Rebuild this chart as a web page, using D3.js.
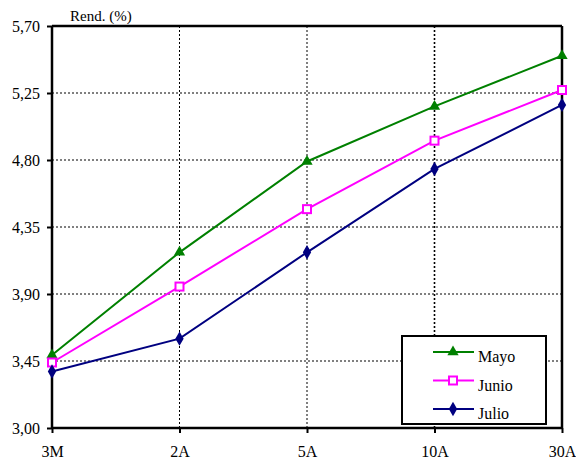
<!DOCTYPE html>
<html>
<head>
<meta charset="utf-8">
<script src="https://cdn.jsdelivr.net/npm/d3@7"></script>
<style>
  html, body { margin: 0; padding: 0; background: #fff; }
  svg { display: block; }
</style>
</head>
<body>
<svg id="chart" width="576" height="459" font-family="Liberation Serif"></svg>
<script>
// Plazos de la curva de rendimientos
const categories = ["3M", "2A", "5A", "10A", "30A"];
// Rendimiento (%) por mes
const mayo  = [3.49, 4.18, 4.79, 5.16, 5.50];
const junio = [3.44, 3.95, 4.47, 4.93, 5.27];
const julio = [3.38, 3.60, 4.18, 4.74, 5.17];
const yTicks = [3.00, 3.45, 3.90, 4.35, 4.80, 5.25, 5.70];

const series = [
  { name: "Mayo",  values: mayo,  color: "#008000", marker: "triangle" },
  { name: "Junio", values: junio, color: "#ff00ff", marker: "square" },
  { name: "Julio", values: julio, color: "#000080", marker: "diamond" }
];

const FONT = "Liberation Serif";
const svg = d3.select("#chart");
const plotLeft = 52, plotRight = 562, plotTop = 26, plotBottom = 428;

const x = d3.scalePoint().domain(categories).range([plotLeft, plotRight]);
const y = d3.scaleLinear().domain([3.00, 5.70]).range([plotBottom, plotTop]);
const fmt = v => d3.format(".2f")(v).replace(".", ",");

// Cuadrícula punteada
const grid = svg.append("g");
grid.selectAll("line.h").data(yTicks.slice(1, -1)).join("line")
  .attr("x1", plotLeft).attr("x2", plotRight)
  .attr("y1", d => y(d)).attr("y2", d => y(d))
  .attr("stroke", "#000").attr("stroke-width", 1).attr("stroke-dasharray", "2,2");
grid.selectAll("line.v").data(categories.slice(1, -1)).join("line")
  .attr("x1", d => x(d)).attr("x2", d => x(d))
  .attr("y1", plotTop).attr("y2", plotBottom)
  .attr("stroke", "#000").attr("stroke-width", d => d === "10A" ? 1.6 : 1)
  .attr("stroke-dasharray", "2,2");

// Marco superior y derecho
svg.append("line").attr("x1", plotLeft).attr("x2", plotRight).attr("y1", plotTop).attr("y2", plotTop)
  .attr("stroke", "#000").attr("stroke-width", 2.5);
svg.append("line").attr("x1", plotRight).attr("x2", plotRight).attr("y1", plotTop).attr("y2", plotBottom)
  .attr("stroke", "#000").attr("stroke-width", 2.5);

// Ejes
const yAxis = svg.append("g").attr("transform", `translate(${plotLeft},0)`)
  .call(d3.axisLeft(y).tickValues(yTicks).tickFormat(fmt).tickSize(5).tickPadding(7));
const xAxis = svg.append("g").attr("transform", `translate(0,${plotBottom})`)
  .call(d3.axisBottom(x).tickSize(5).tickPadding(13));
[yAxis, xAxis].forEach(a => {
  a.attr("font-family", FONT).attr("font-size", 16);
  a.select(".domain").attr("stroke", "#000").attr("stroke-width", 2.5);
  a.selectAll(".tick line").attr("stroke", "#000").attr("stroke-width", 2);
  a.selectAll("text").attr("fill", "#000");
});
yAxis.select(".domain").attr("d", `M0,${plotTop}V${plotBottom}`);
xAxis.select(".domain").attr("d", `M${plotLeft},0H${plotRight}`);

// Título del eje
svg.append("text").attr("x", 70).attr("y", 21)
  .attr("font-family", FONT).attr("font-size", 15).text("Rend. (%)");

// Marcadores
function drawMarker(g, type, color, cx, cy) {
  if (type === "triangle") {
    g.append("path").attr("d", d3.symbol(d3.symbolTriangle, 55)())
      .attr("transform", `translate(${cx},${cy})`).attr("fill", color);
  } else if (type === "square") {
    g.append("rect").attr("x", cx - 4).attr("y", cy - 4).attr("width", 8).attr("height", 8)
      .attr("fill", "#fff").attr("stroke", color).attr("stroke-width", 2);
  } else {
    g.append("path").attr("d", d3.symbol(d3.symbolDiamond, 60)())
      .attr("transform", `translate(${cx},${cy})`).attr("fill", color);
  }
}

const line = d3.line().x((d, i) => x(categories[i])).y(d => y(d));
series.forEach(s => {
  const g = svg.append("g");
  g.append("path").datum(s.values).attr("d", line)
    .attr("fill", "none").attr("stroke", s.color).attr("stroke-width", 2);
  s.values.forEach((v, i) => drawMarker(g, s.marker, s.color, x(categories[i]), y(v)));
});

// Leyenda
const lg = svg.append("g");
lg.append("rect").attr("x", 402).attr("y", 336).attr("width", 144).attr("height", 88)
  .attr("fill", "#fff").attr("stroke", "#000").attr("stroke-width", 2);
series.forEach((s, i) => {
  const ly = 352 + i * 28.5;
  lg.append("line").attr("x1", 433).attr("x2", 474).attr("y1", ly).attr("y2", ly)
    .attr("stroke", s.color).attr("stroke-width", 2);
  drawMarker(lg, s.marker, s.color, 453, ly);
  lg.append("text").attr("x", 478).attr("y", ly + 10)
    .attr("font-family", FONT).attr("font-size", 16).text(s.name);
});
</script>
</body>
</html>
